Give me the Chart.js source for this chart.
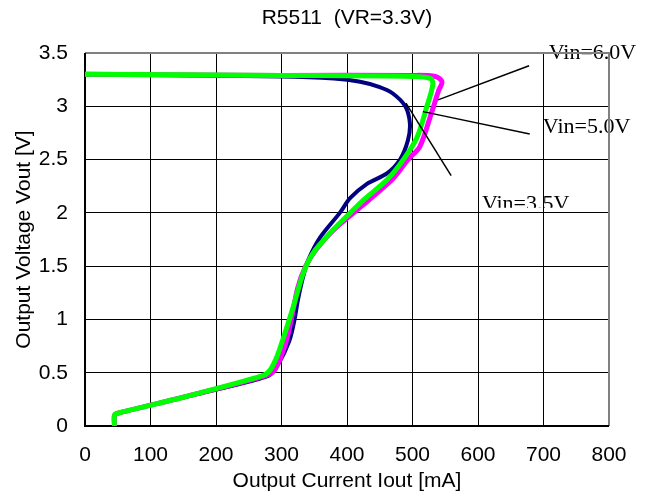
<!DOCTYPE html>
<html>
<head>
<meta charset="utf-8">
<script src="https://cdn.jsdelivr.net/npm/chart.js@4/dist/chart.umd.min.js"></script>
<style>
  html, body { margin: 0; padding: 0; background: #fff; }
  #wrap { width: 645px; height: 500px; }
</style>
</head>
<body>
<div id="wrap"><canvas id="c" width="645" height="500"></canvas></div>
<script>
// Iout [mA], Vout [V]
const vin35Iout = [45, 45, 50, 150, 280, 295, 312, 320, 325, 333, 341, 359, 389, 405, 430, 461, 481, 493, 496, 489, 470, 450, 420, 380, 300, 0];
const vin35Vout = [0, 0.1, 0.12, 0.27, 0.47, 0.58, 0.8, 1.0, 1.18, 1.4, 1.56, 1.77, 2.0, 2.14, 2.27, 2.37, 2.5, 2.68, 2.84, 3.0, 3.12, 3.18, 3.23, 3.26, 3.28, 3.3];

const vin60Iout = [45, 45, 50, 150, 275, 290, 305, 315, 325, 337, 352, 378, 410, 435, 470, 493, 511, 527, 540, 545, 535, 500, 300, 0];
const vin60Vout = [0, 0.1, 0.12, 0.27, 0.47, 0.53, 0.75, 1.0, 1.3, 1.5, 1.65, 1.83, 2.0, 2.13, 2.32, 2.5, 2.62, 2.9, 3.15, 3.23, 3.28, 3.29, 3.29, 3.3];

const vin50Iout = [45, 45, 50, 150, 270, 282, 293, 302, 318, 333, 348, 374, 405, 425, 461, 486, 507, 522, 531, 528, 500, 300, 0];
const vin50Vout = [0, 0.1, 0.12, 0.27, 0.47, 0.52, 0.65, 0.81, 1.12, 1.43, 1.62, 1.81, 2.0, 2.12, 2.31, 2.5, 2.71, 3.0, 3.2, 3.26, 3.28, 3.29, 3.3];

const xTicks = [0, 100, 200, 300, 400, 500, 600, 700, 800];
const yTicks = [0, 0.5, 1, 1.5, 2, 2.5, 3, 3.5];

const titleText = "R5511  (VR=3.3V)";

// leader lines and labels, in data units (labels given by their baseline)
const labelText = ["Vin=6.0V", "Vin=5.0V", "Vin=3.5V"];
const labelX = [708, 699, 606];
const labelY = [3.44, 2.75, 2.03];
const leaderFrom = [[539, 3.06], [516, 2.95], [490, 3.03]];
const leaderTo = [[678, 3.38], [679, 2.74], [559, 2.35]];

const pts = (xs, ys) => xs.map((x, i) => ({ x: x, y: ys[i] }));

const notes = {
    id: "notes",
    // the labels sit under the grid in the original
    beforeDraw(chart) {
        const ctx = chart.ctx;
        const sx = chart.scales.x, sy = chart.scales.y;
        ctx.save();
        ctx.fillStyle = "#000";
        ctx.font = "22px 'Liberation Serif'";
        ctx.textBaseline = "alphabetic";
        labelText.forEach((t, i) => {
            const px = sx.getPixelForValue(labelX[i]);
            const py = sy.getPixelForValue(labelY[i]);
            ctx.save();
            if (i === 2) {
                // bottom of this label is cut off
                ctx.beginPath();
                ctx.rect(px - 5, py - 30, 140, 28);
                ctx.clip();
            }
            ctx.fillText(t, px, py);
            ctx.restore();
        });
        // title is centred over the plot area, not the canvas
        const a = chart.chartArea;
        ctx.font = "21px 'Liberation Sans'";
        ctx.textAlign = "center";
        ctx.textBaseline = "middle";
        ctx.fillText(titleText, (a.left + a.right) / 2, 18);
        ctx.restore();
    },
    afterDatasetsDraw(chart) {
        const ctx = chart.ctx;
        const sx = chart.scales.x, sy = chart.scales.y;
        ctx.save();
        ctx.strokeStyle = "#000";
        ctx.lineWidth = 1.5;
        leaderFrom.forEach((p, i) => {
            ctx.beginPath();
            ctx.moveTo(sx.getPixelForValue(p[0]), sy.getPixelForValue(p[1]));
            ctx.lineTo(sx.getPixelForValue(leaderTo[i][0]), sy.getPixelForValue(leaderTo[i][1]));
            ctx.stroke();
        });
        ctx.restore();
    }
};

const border = {
    id: "border",
    beforeDatasetsDraw(chart) {
        const ctx = chart.ctx;
        const a = chart.chartArea;
        ctx.save();
        ctx.strokeStyle = "#808080";
        ctx.lineWidth = 2;
        ctx.beginPath();
        ctx.moveTo(a.left, a.top);
        ctx.lineTo(a.right, a.top);
        ctx.lineTo(a.right, a.bottom);
        ctx.stroke();
        ctx.strokeStyle = "#000";
        ctx.beginPath();
        ctx.moveTo(a.left, a.top);
        ctx.lineTo(a.left, a.bottom);
        ctx.lineTo(a.right, a.bottom);
        ctx.stroke();
        ctx.restore();
    }
};

const font = size => ({ family: "'Liberation Sans'", size: size, weight: "normal" });

new Chart(document.getElementById("c").getContext("2d"), {
    type: "scatter",
    data: {
        // first dataset is drawn on top
        datasets: [
            { label: "Vin=5.0V", data: pts(vin50Iout, vin50Vout), borderColor: "#00ff00", borderWidth: 5 },
            { label: "Vin=6.0V", data: pts(vin60Iout, vin60Vout), borderColor: "#ff00ff", borderWidth: 5 },
            { label: "Vin=3.5V", data: pts(vin35Iout, vin35Vout), borderColor: "#000080", borderWidth: 4 }
        ].map(d => Object.assign(d, { showLine: true, pointRadius: 0, tension: 0.3, fill: false, borderCapStyle: "round", borderJoinStyle: "round" }))
    },
    options: {
        responsive: false,
        animation: false,
        layout: { padding: { left: 0, right: 36, top: 53, bottom: 0 } },
        plugins: {
            legend: { display: false },
            tooltip: { enabled: false },
            title: { display: false }
        },
        scales: {
            x: {
                type: "linear",
                min: 0, max: 800,
                afterBuildTicks: s => { s.ticks = xTicks.map(v => ({ value: v })); },
                afterFit: s => { s.height = 74; },
                grid: { color: "#000", lineWidth: 1, drawTicks: false },
                border: { display: false },
                ticks: { color: "#000", padding: 17, maxRotation: 0, font: font(21), callback: v => String(v) },
                title: { display: true, text: "Output Current Iout [mA]", color: "#000", padding: { top: 0, bottom: 6 }, font: font(21) }
            },
            y: {
                type: "linear",
                min: 0, max: 3.5,
                afterBuildTicks: s => { s.ticks = yTicks.map(v => ({ value: v })); },
                afterFit: s => { s.width = 85; },
                grid: { color: "#000", lineWidth: 1, drawTicks: false },
                border: { display: false },
                ticks: { color: "#000", padding: 17, font: font(21), callback: v => String(v) },
                title: { display: true, text: "Output Voltage Vout [V]", color: "#000", padding: { top: 12, bottom: 0 }, font: font(21) }
            }
        }
    },
    plugins: [border, notes]
});
</script>
</body>
</html>
